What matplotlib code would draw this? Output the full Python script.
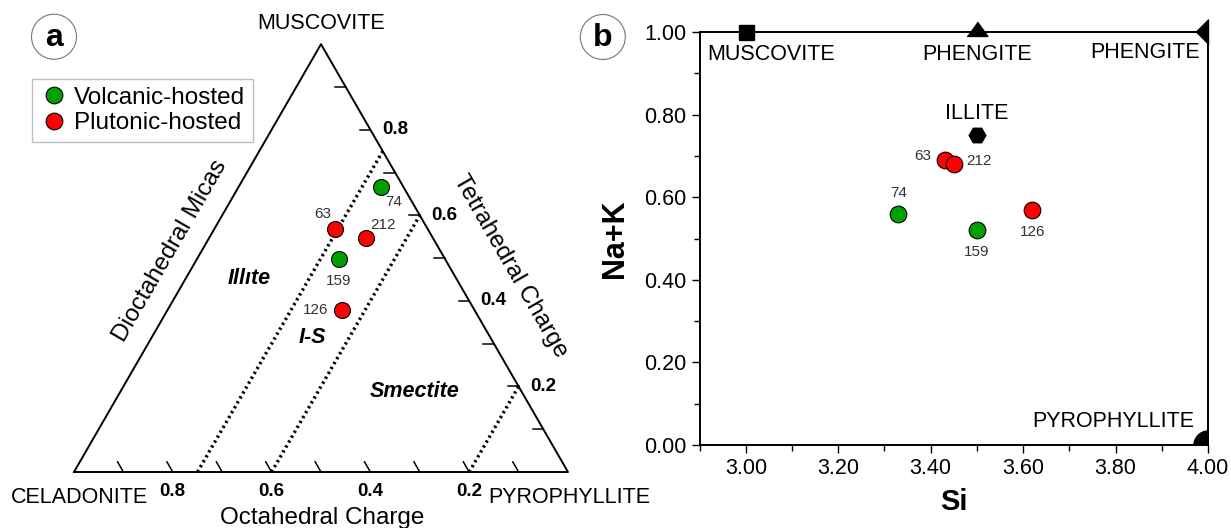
import numpy as np
import matplotlib
matplotlib.use("Agg")
import matplotlib.pyplot as plt
from matplotlib.patches import Circle
from matplotlib.lines import Line2D

plt.rcParams['font.family'] = ['Liberation Sans', 'DejaVu Sans']

# samples (ternary: tetrahedral / octahedral charge ; binary: Si vs Na+K)
sample_ids = ['74', '159', '63', '212', '126']
hosts = ['Volcanic-hosted', 'Volcanic-hosted', 'Plutonic-hosted', 'Plutonic-hosted', 'Plutonic-hosted']
tet_charge = [0.667, 0.498, 0.567, 0.546, 0.378]
oct_charge = [0.045, 0.215, 0.188, 0.135, 0.268]
si = [3.33, 3.50, 3.43, 3.45, 3.62]
na_k = [0.56, 0.52, 0.69, 0.68, 0.57]

# interlayer charge boundaries (T + O) drawn as dotted lines
boundaries = [0.75, 0.6, 0.2]
tick_vals = [0.1, 0.2, 0.3, 0.4, 0.5, 0.6, 0.7, 0.8, 0.9]
label_vals = [0.2, 0.4, 0.6, 0.8]

# end members in Si / Na+K space
em_names = ['MUSCOVITE', 'PHENGITE', 'PHENGITE', 'ILLITE', 'PYROPHYLLITE']
em_si = [3.0, 3.5, 4.0, 3.5, 4.0]
em_nak = [1.0, 1.0, 1.0, 0.75, 0.0]

colors = {'Volcanic-hosted': '#00a000', 'Plutonic-hosted': '#ff0000'}
H = np.sqrt(3) / 2


def tern(t, o):
    t = np.asarray(t, float)
    o = np.asarray(o, float)
    return 1 - o - 0.5 * t, t * H


fig = plt.figure(figsize=(12.31, 5.28), dpi=100)

# ---------------- panel a : ternary ----------------
ax1 = fig.add_axes([0, 0, 620 / 1231, 1])
ax1.set_xlim(-74 / 494, 546 / 494)
ax1.set_ylim(-56 / 494, 472 / 494)
ax1.set_aspect('equal')
ax1.axis('off')

ax1.plot([0, 1, 0.5, 0], [0, 0, H, 0], color='black', lw=1.4, clip_on=False)

for b in boundaries:
    x, y = tern([0, b], [b, 0])
    ax1.plot(x, y, color='black', lw=2.4, linestyle=(0, (0.7, 1.0)))

L_b = 11.7 / 494
L_r = 10.7 / 494
for v in tick_vals:
    # bottom ticks (octahedral charge)
    x0, y0 = tern(0, v)
    ax1.plot([x0, x0 - 0.5 * L_b], [y0, y0 + H * L_b], color='black', lw=1.1)
    # right edge ticks (tetrahedral charge)
    x0, y0 = tern(v, 0)
    ax1.plot([x0, x0 - L_r], [y0, y0], color='black', lw=1.1)

for v in label_vals:
    x0, y0 = tern(0, v)
    ax1.text(x0, -0.0385, f'{v:.1f}', ha='center', va='center', fontsize=13.5, fontweight='bold')
    x0, y0 = tern(v, 0)
    ax1.text(x0 + 0.023, y0, f'{v:.1f}', ha='left', va='center', fontsize=13.5, fontweight='bold')

ax1.text(0.5, H + 0.042, 'MUSCOVITE', ha='center', va='center', fontsize=15.5)
ax1.text(0.012, -0.052, 'CELADONITE', ha='center', va='center', fontsize=15.5)
ax1.text(0.838, -0.052, 'PYROPHYLLITE', ha='left', va='center', fontsize=15.5)
ax1.text(0.502, -0.094, 'Octahedral Charge', ha='center', va='center', fontsize=17.5)
ax1.text(0.194, 0.447, 'Dioctahedral Micas', ha='center', va='center', fontsize=17.5, rotation=60)
ax1.text(0.883, 0.417, 'Tetrahedral Charge', ha='center', va='center', fontsize=17.5, rotation=-60)
ax1.text(0.354, 0.391, 'Illıte', ha='center', va='center', fontsize=15.5, fontweight='bold', style='italic')
ax1.text(0.482, 0.273, 'I-S', ha='center', va='center', fontsize=15.5, fontweight='bold', style='italic')
ax1.text(0.690, 0.162, 'Smectite', ha='center', va='center', fontsize=15.5, fontweight='bold', style='italic')

xs, ys = tern(tet_charge, oct_charge)
offs_a = {'74': (9, -11), '63': (-9, 11), '212': (12, 9.5), '159': (0, -16), '126': (-19, 0)}
for i, sid in enumerate(sample_ids):
    ax1.plot(xs[i], ys[i], 'o', ms=11.5, mfc=colors[hosts[i]], mec='black', mew=0.8)
    ax1.annotate(sid, (xs[i], ys[i]), xytext=offs_a[sid], textcoords='offset points',
                 ha='center', va='center', fontsize=11, color='#333333')

handles = [Line2D([], [], marker='o', ls='none', ms=12, mfc=colors[h], mec='black', mew=0.8)
           for h in ['Volcanic-hosted', 'Plutonic-hosted']]
leg = ax1.legend(handles, ['Volcanic-hosted', 'Plutonic-hosted'], loc='upper left',
                 bbox_to_anchor=(31.7 / 620, 1 - 79.3 / 528), fontsize=17.5, frameon=True,
                 fancybox=False, borderpad=0.3, handletextpad=0.25, labelspacing=0.15,
                 handlelength=1.2, borderaxespad=0)
leg.get_frame().set_edgecolor('#b0b0b0')
leg.get_frame().set_linewidth(1.0)

# panel letters
for cx, cy, letter in [(-20 / 494, 435.3 / 494, 'a'), (528.8 / 494, 435 / 494, 'b')]:
    ax1.add_patch(Circle((cx, cy), 22.5 / 494, fc='white', ec='#777777', lw=0.8, clip_on=False))
    ax1.text(cx, cy - 0.003, letter, ha='center', va='center', fontsize=23, fontweight='bold', clip_on=False)

# ---------------- panel b : Si vs Na+K ----------------
ax2 = fig.add_axes([699.6 / 1231, 83 / 528, 508.4 / 1231, 413 / 528])
ax2.set_xlim(2.9, 4.0)
ax2.set_ylim(0, 1.0)
ax2.set_xticks(np.arange(3.0, 4.01, 0.2))
ax2.set_xticks(np.arange(2.9, 4.01, 0.1), minor=True)
ax2.set_yticks(np.arange(0, 1.01, 0.2))
ax2.set_yticks(np.arange(0, 1.01, 0.1), minor=True)
ax2.xaxis.set_major_formatter(matplotlib.ticker.FormatStrFormatter('%.2f'))
ax2.yaxis.set_major_formatter(matplotlib.ticker.FormatStrFormatter('%.2f'))
ax2.tick_params(which='both', direction='out', labelsize=15.5, width=1, top=False, right=False)
ax2.tick_params(which='major', length=6)
ax2.tick_params(which='minor', length=4)
for sp in ax2.spines.values():
    sp.set_linewidth(1.4)
ax2.set_xlabel('Si', fontsize=21, fontweight='bold', labelpad=6)
ax2.set_ylabel('Na+K', fontsize=22, fontweight='bold', labelpad=10)

tri_up = [(-1, -0.38), (1, -0.38), (0, 1.0)]
tri_left_half = [(-1, 0), (0, 1), (0, -1)]
em_style = [dict(marker='s', ms=10.8, clip_on=False),
            dict(marker=tri_up, ms=15, clip_on=False),
            dict(marker=tri_left_half, ms=18, clip_on=False),
            dict(marker='H', ms=12, clip_on=False),
            dict(marker='o', ms=21, clip_on=True)]
for i in range(len(em_names)):
    ax2.plot(em_si[i], em_nak[i], ls='none', color='black', mec='black', **em_style[i])

em_off = [((-28, -16), 'left'), ((0, -16), 'center'), ((-6, -15), 'right'),
          ((0, 16), 'center'), ((-10, 17), 'right')]
for i, name in enumerate(em_names):
    ax2.annotate(name, (em_si[i], em_nak[i]), xytext=em_off[i][0], textcoords='offset points',
                 ha=em_off[i][1], va='center', fontsize=15.5)

offs_b = {'74': (0, 15), '159': (0, -16), '126': (0, -16), '63': (-15.5, 3), '212': (18, 2)}
for i, sid in enumerate(sample_ids):
    ax2.plot(si[i], na_k[i], 'o', ms=12, mfc=colors[hosts[i]], mec='black', mew=0.8)
    ax2.annotate(sid, (si[i], na_k[i]), xytext=offs_b[sid], textcoords='offset points',
                 ha='center', va='center', fontsize=11, color='#333333')

fig.savefig('out.png', dpi=100)
